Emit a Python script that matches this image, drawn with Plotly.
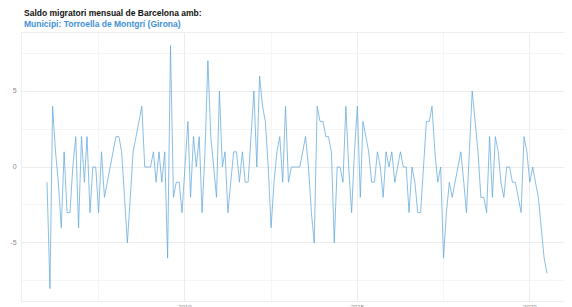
import pandas as pd
import plotly.graph_objects as go

start_month = "2006-01-01"
saldo = [
    -1, -8, 4, 1, -1, -4, 1, -3, -3, 0, 2, -4, 2, -1, 2, -3, 0, 0, -3, 1,
    -2, -1, 0, 1, 2, 2, 1, -2, -5, -2, 1, 2, 3, 4, 0, 0, 0, 1, -1, 1,
    -1, 1, -6, 8, -2, -1, -1, -3, 0, 3, -2, 2, 0, 2, -3, 1, 7, 2, 0, -2,
    5, 0, 1, -3, -1, 1, 1, -1, 1, -1, -1, 2, 5, 0, 6, 4, 3, 0, -4, -1,
    1, 2, -1, 4, -1, 0, 0, 0, 0, 1, 2, 0, -3, -5, 4, 3, 3, 2, 2, 1,
    -5, 0, 0, -1, 4, 0, -3, 1, 4, -2, 3, 2, 1, -1, -1, 1, 0, -2, 1, 0,
    1, -1, 0, 1, 0, 0, -3, 0, -1, -3, -3, 0, 3, 3, 4, 1, -1, 0, -6, -3,
    -1, -2, -1, 0, 1, -1, -3, 1, 5, 3, 1, -2, -2, -3, 2, -2, 2, 1, -1, -2,
    0, 0, -1, -1, -2, -3, 2, 1, -1, 0, -1, -2, -4, -6, -7,
]
dates = pd.date_range(start_month, periods=len(saldo), freq="MS")

title_text = "Saldo migratori mensual de Barcelona amb:"
subtitle_text = "Municipi: Torroella de Montgrí (Girona)"
x_ticks = ["2010-01-01", "2015-01-01", "2020-01-01"]
x_tick_labels = ["2010", "2015", "2020"]
y_ticks = [-5, 0, 5]
y_tick_labels = ["-5", "0", "5"]

fig = go.Figure()
fig.add_trace(go.Scatter(
    x=dates, y=saldo, mode="lines",
    line=dict(color="#62a8dc", width=0.75),
    hoverinfo="x+y", showlegend=False,
))

grid_major = "#ececec"
grid_minor = "#f5f5f5"

# page body has an 8px margin, so the figure is sized to fill the rest of the window
fig.update_layout(
    width=564, height=299,
    margin=dict(l=14, r=0, t=25, b=6),
    paper_bgcolor="white", plot_bgcolor="white",
    font=dict(family="Liberation Sans, Arial, sans-serif", size=6, color="#8a8a8a"),
    xaxis=dict(
        type="date",
        range=["2005-04-11", "2021-03-23"],
        tickmode="array", tickvals=x_ticks, ticktext=x_tick_labels,
        showgrid=True, gridcolor=grid_major, gridwidth=1,
        minor=dict(showgrid=True, gridcolor=grid_minor, gridwidth=1,
                   tickmode="array",
                   tickvals=["2007-07-02", "2012-07-02", "2017-07-02"]),
        zeroline=False, showline=True, linecolor="#eeeeee", linewidth=1, mirror=True,
        ticks="", ticklabelstandoff=0, automargin=False,
        tickfont=dict(size=6, color="#8a8a8a"),
    ),
    yaxis=dict(
        range=[-8.82, 8.82],
        tickmode="array", tickvals=y_ticks, ticktext=y_tick_labels,
        showgrid=True, gridcolor=grid_major, gridwidth=1,
        minor=dict(showgrid=True, gridcolor=grid_minor, gridwidth=1,
                   tickmode="array", tickvals=[-7.5, -2.5, 2.5, 7.5]),
        zeroline=False, showline=True, linecolor="#eeeeee", linewidth=1, mirror=True,
        ticks="", ticklabelstandoff=3, automargin=False,
        tickfont=dict(size=7, color="#8a8a8a"),
    ),
    annotations=[
        dict(text="<b>" + title_text + "</b>", xref="paper", yref="paper",
             x=0, y=1.075, xanchor="left", yanchor="middle", showarrow=False,
             font=dict(size=8.5, color="#111111", family="Liberation Sans, Arial, sans-serif")),
        dict(text="<b>" + subtitle_text + "</b>", xref="paper", yref="paper",
             x=0, y=1.034, xanchor="left", yanchor="middle", showarrow=False,
             font=dict(size=8.5, color="#3f91d4", family="Liberation Sans, Arial, sans-serif")),
    ],
)

fig.write_html("out.html")
